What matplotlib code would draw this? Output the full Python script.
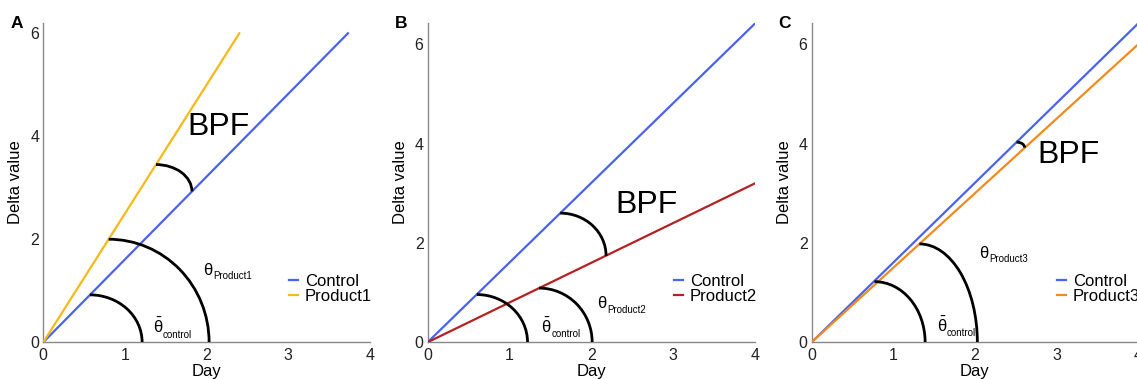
import matplotlib
matplotlib.use("Agg")
import matplotlib.pyplot as plt
from matplotlib.patches import Arc

plt.rcParams['font.family'] = ['Liberation Sans', 'DejaVu Sans']
plt.rcParams['mathtext.fontset'] = 'custom'
plt.rcParams['mathtext.rm'] = 'Liberation Sans'
plt.rcParams['mathtext.it'] = 'Liberation Sans'
plt.rcParams['mathtext.bf'] = 'Liberation Sans:bold'

# ---- data ----
panel_labels = ["A", "B", "C"]
product_names = ["Product1", "Product2", "Product3"]
product_colors = ["#F5B919", "#B22222", "#F28A1E"]
control_color = "#4A63EE"

# line end points (all lines start at the origin)
control_end = [(3.73, 6.0), (4.0, 6.42), (4.0, 6.42)]
product_end = [(2.40, 6.0), (4.0, 3.20), (4.0, 6.00)]
y_max = [6.2, 6.43, 6.43]

# quarter arcs: (x_top, y_top) -> (x_right, y_right)
control_arc = [((0.57, 0.92), (1.21, 0.0)),
               ((0.60, 0.96), (1.22, 0.0)),
               ((0.77, 1.22), (1.39, 0.0))]
product_arc = [((0.80, 2.00), (2.03, 0.0)),
               ((1.36, 1.09), (2.01, 0.0)),
               ((1.32, 1.98), (2.03, 0.0))]
bpf_arc = [((1.38, 3.45), (1.82, 2.93)),
           ((1.62, 2.60), (2.18, 1.74)),
           ((2.51, 4.03), (2.61, 3.92))]

bpf_text_pos = [(2.14, 4.18), (2.67, 2.76), (3.15, 3.77)]
theta_ctrl_pos = [(1.34, 0.17), (1.39, 0.18), (1.53, 0.21)]
theta_prod_pos = [(1.96, 1.30), (2.07, 0.68), (2.05, 1.69)]

x_ticks = [0, 1, 2, 3, 4]
y_ticks = [0, 2, 4, 6]

W, H = 1137, 379
axes_px = [(43.3, 370.0), (427.7, 755.0), (811.7, 1138.1)]
y0_px, ytop_px = 342.2, 23.0


def quarter_arc(ax, top, right):
    (xt, yt), (xr, yr) = top, right
    ax.add_patch(Arc((xt, yr), 2 * (xr - xt), 2 * (yt - yr), theta1=0, theta2=90,
                     color="black", lw=2.0, zorder=4))


def theta_label(ax, pos, symbol, sub):
    ax.text(*pos, symbol, fontsize=12, ha="left", va="baseline")
    ax.annotate(sub, xy=pos, xytext=(7.2, -3), textcoords="offset points",
                fontsize=7, ha="left", va="baseline")


fig = plt.figure(figsize=(W / 100, H / 100), dpi=100)

for i in range(3):
    l, r = axes_px[i]
    ax = fig.add_axes([l / W, 1 - y0_px / H, (r - l) / W, (y0_px - ytop_px) / H])
    ax.set_xlim(0, 4)
    ax.set_ylim(0, y_max[i])

    ax.plot([0, control_end[i][0]], [0, control_end[i][1]], color=control_color,
            lw=1.6, label="Control", zorder=3)
    ax.plot([0, product_end[i][0]], [0, product_end[i][1]], color=product_colors[i],
            lw=1.6, label=product_names[i], zorder=3)

    quarter_arc(ax, *control_arc[i])
    quarter_arc(ax, *product_arc[i])
    quarter_arc(ax, *bpf_arc[i])

    ax.text(*bpf_text_pos[i], "BPF", fontsize=23, ha="center", va="center")
    theta_label(ax, theta_ctrl_pos[i], r"$\bar{\theta}$", "control")
    theta_label(ax, theta_prod_pos[i], "θ", product_names[i])

    ax.legend(loc="upper left", bbox_to_anchor=(0.752, 0.215), frameon=False,
              fontsize=12, handlelength=0.55, handletextpad=0.4, labelspacing=0.0,
              borderpad=0, borderaxespad=0)

    ax.set_xticks(x_ticks)
    ax.set_yticks(y_ticks)
    ax.tick_params(length=0, labelsize=11.5, pad=3, colors="#222222")
    ax.tick_params(axis="x", pad=4)
    for s in ["top", "right"]:
        ax.spines[s].set_visible(False)
    for s in ["left", "bottom"]:
        ax.spines[s].set_color("#888888")
        ax.spines[s].set_linewidth(1.0)
    ax.set_xlabel("Day", fontsize=12, labelpad=1)
    ax.set_ylabel("Delta value", fontsize=12, labelpad=5)

    fig.text((l - 33) / W, 1 - 24 / H, panel_labels[i], fontsize=12.5,
             fontweight="bold", ha="left", va="center")

fig.savefig("out.png", dpi=100)
